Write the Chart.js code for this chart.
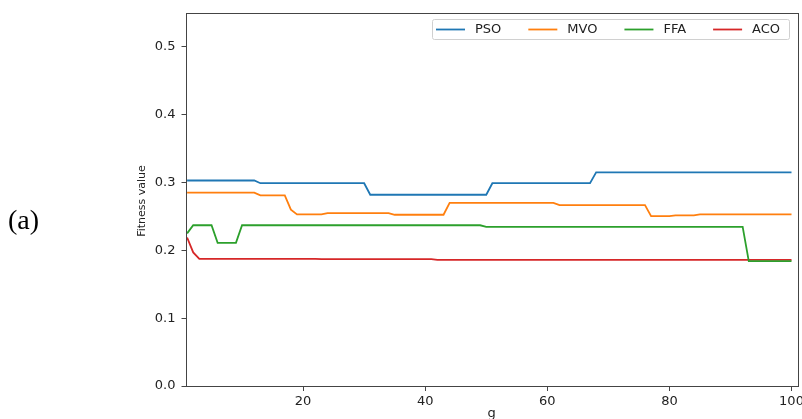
<!DOCTYPE html>
<html>
<head>
<meta charset="utf-8">
<script src="https://cdn.jsdelivr.net/npm/chart.js@4.4.0/dist/chart.umd.min.js"></script>
<style>
  html, body { margin: 0; padding: 0; background: #fff; }
  canvas { display: block; }
</style>
</head>
<body>
<canvas id="fitness-chart" width="802" height="419"></canvas>
<script>
// Generations 1..100
const generations = Array.from({ length: 100 }, (_, i) => i + 1);

// Best fitness per generation for each optimiser
const psoValues = [
  0.303, 0.303, 0.303, 0.303, 0.303, 0.303, 0.303, 0.303, 0.303, 0.303,
  0.303, 0.303, 0.299, 0.299, 0.299, 0.299, 0.299, 0.299, 0.299, 0.299,
  0.299, 0.299, 0.299, 0.299, 0.299, 0.299, 0.299, 0.299, 0.299, 0.299,
  0.282, 0.282, 0.282, 0.282, 0.282, 0.282, 0.282, 0.282, 0.282, 0.282,
  0.282, 0.282, 0.282, 0.282, 0.282, 0.282, 0.282, 0.282, 0.282, 0.282,
  0.299, 0.299, 0.299, 0.299, 0.299, 0.299, 0.299, 0.299, 0.299, 0.299,
  0.299, 0.299, 0.299, 0.299, 0.299, 0.299, 0.299, 0.315, 0.315, 0.315,
  0.315, 0.315, 0.315, 0.315, 0.315, 0.315, 0.315, 0.315, 0.315, 0.315,
  0.315, 0.315, 0.315, 0.315, 0.315, 0.315, 0.315, 0.315, 0.315, 0.315,
  0.315, 0.315, 0.315, 0.315, 0.315, 0.315, 0.315, 0.315, 0.315, 0.315
];
const mvoValues = [
  0.285, 0.285, 0.285, 0.285, 0.285, 0.285, 0.285, 0.285, 0.285, 0.285,
  0.285, 0.285, 0.281, 0.281, 0.281, 0.281, 0.281, 0.260, 0.253, 0.253,
  0.253, 0.253, 0.253, 0.255, 0.255, 0.255, 0.255, 0.255, 0.255, 0.255,
  0.255, 0.255, 0.255, 0.255, 0.2525, 0.2525, 0.2525, 0.2525, 0.2525, 0.2525,
  0.2525, 0.2525, 0.2525, 0.270, 0.270, 0.270, 0.270, 0.270, 0.270, 0.270,
  0.270, 0.270, 0.270, 0.270, 0.270, 0.270, 0.270, 0.270, 0.270, 0.270,
  0.270, 0.2667, 0.2667, 0.2667, 0.2667, 0.2667, 0.2667, 0.2667, 0.2667, 0.2667,
  0.2667, 0.2667, 0.2667, 0.2667, 0.2667, 0.2667, 0.2505, 0.2505, 0.2505, 0.2505,
  0.2515, 0.2515, 0.2515, 0.2515, 0.253, 0.253, 0.253, 0.253, 0.253, 0.253,
  0.253, 0.253, 0.253, 0.253, 0.253, 0.253, 0.253, 0.253, 0.253, 0.253
];
const ffaValues = [
  0.225, 0.237, 0.237, 0.237, 0.237, 0.211, 0.211, 0.211, 0.211, 0.237,
  0.237, 0.237, 0.237, 0.237, 0.237, 0.237, 0.237, 0.237, 0.237, 0.237,
  0.237, 0.237, 0.237, 0.237, 0.237, 0.237, 0.237, 0.237, 0.237, 0.237,
  0.237, 0.237, 0.237, 0.237, 0.237, 0.237, 0.237, 0.237, 0.237, 0.237,
  0.237, 0.237, 0.237, 0.237, 0.237, 0.237, 0.237, 0.237, 0.237, 0.2345,
  0.2345, 0.2345, 0.2345, 0.2345, 0.2345, 0.2345, 0.2345, 0.2345, 0.2345, 0.2345,
  0.2345, 0.2345, 0.2345, 0.2345, 0.2345, 0.2345, 0.2345, 0.2345, 0.2345, 0.2345,
  0.2345, 0.2345, 0.2345, 0.2345, 0.2345, 0.2345, 0.2345, 0.2345, 0.2345, 0.2345,
  0.2345, 0.2345, 0.2345, 0.2345, 0.2345, 0.2345, 0.2345, 0.2345, 0.2345, 0.2345,
  0.2345, 0.2345, 0.184, 0.184, 0.184, 0.184, 0.184, 0.184, 0.184, 0.184
];
const acoValues = [
  0.219, 0.197, 0.1875, 0.1875, 0.1875, 0.1875, 0.1875, 0.1875, 0.1875, 0.1875,
  0.1875, 0.1875, 0.1875, 0.1875, 0.1875, 0.1875, 0.1875, 0.1875, 0.1875, 0.1875,
  0.1875, 0.1875, 0.187, 0.187, 0.187, 0.187, 0.187, 0.187, 0.187, 0.187,
  0.187, 0.187, 0.187, 0.187, 0.187, 0.187, 0.187, 0.187, 0.187, 0.187,
  0.187, 0.186, 0.186, 0.186, 0.186, 0.186, 0.186, 0.186, 0.186, 0.186,
  0.186, 0.186, 0.186, 0.186, 0.186, 0.186, 0.186, 0.186, 0.186, 0.186,
  0.186, 0.186, 0.186, 0.186, 0.186, 0.186, 0.186, 0.186, 0.186, 0.186,
  0.186, 0.186, 0.186, 0.186, 0.186, 0.186, 0.186, 0.186, 0.186, 0.186,
  0.186, 0.186, 0.186, 0.186, 0.186, 0.186, 0.186, 0.186, 0.186, 0.186,
  0.186, 0.186, 0.186, 0.186, 0.186, 0.186, 0.186, 0.186, 0.186, 0.186
];

const seriesNames = ['PSO', 'MVO', 'FFA', 'ACO'];
const seriesColors = ['#1f77b4', '#ff7f0e', '#2ca02c', '#d62728'];
const xTicks = [20, 40, 60, 80, 100];
const yTicks = [0.0, 0.1, 0.2, 0.3, 0.4, 0.5];

const FONT = '"DejaVu Sans", sans-serif';
const AXIS_COLOR = '#444';

const toPoints = vals => vals.map((v, i) => ({ x: generations[i], y: v }));
const allValues = [psoValues, mvoValues, ffaValues, acoValues];

// Frame, axis titles, panel tag and boxed legend drawn on top
const decorations = {
  id: 'decorations',
  afterDraw(chart) {
    const { ctx, chartArea: a } = chart;
    ctx.save();

    ctx.strokeStyle = AXIS_COLOR;
    ctx.lineWidth = 1;
    ctx.strokeRect(Math.round(a.left) - 0.5, Math.round(a.top) + 0.5,
      Math.round(a.right - a.left) + 1, Math.round(a.bottom - a.top));

    ctx.fillStyle = '#222';
    ctx.font = '11px ' + FONT;
    ctx.textAlign = 'center';
    ctx.textBaseline = 'middle';
    ctx.save();
    ctx.translate(142, 201);
    ctx.rotate(-Math.PI / 2);
    ctx.fillText('Fitness value', 0, 0);
    ctx.restore();

    ctx.font = '13px ' + FONT;
    ctx.textBaseline = 'alphabetic';
    ctx.fillText('g', (a.left + a.right) / 2, 417);

    ctx.fillStyle = '#000';
    ctx.font = '28px "Liberation Serif", serif';
    ctx.textAlign = 'left';
    ctx.textBaseline = 'middle';
    ctx.fillText('(a)', 8, 222);

    // legend box
    const bx = 432.5, by = 19.5, bw = 357, bh = 20;
    ctx.fillStyle = 'rgba(255,255,255,0.85)';
    ctx.strokeStyle = '#d0d0d0';
    ctx.beginPath();
    ctx.roundRect(bx, by, bw, bh, 2);
    ctx.fill();
    ctx.stroke();

    ctx.font = '13px ' + FONT;
    ctx.textBaseline = 'middle';
    let lx = 436;
    const ly = by + bh / 2;
    chart.data.datasets.forEach(ds => {
      ctx.strokeStyle = ds.borderColor;
      ctx.lineWidth = 1.8;
      ctx.beginPath();
      ctx.moveTo(lx, ly);
      ctx.lineTo(lx + 29, ly);
      ctx.stroke();
      ctx.fillStyle = '#222';
      ctx.fillText(ds.label, lx + 39, ly);
      lx += 39 + ctx.measureText(ds.label).width + 27;
    });

    ctx.restore();
  }
};

new Chart(document.getElementById('fitness-chart'), {
  type: 'line',
  data: {
    datasets: seriesNames.map((name, k) => ({
      label: name,
      data: toPoints(allValues[k]),
      borderColor: seriesColors[k],
      backgroundColor: seriesColors[k],
      borderWidth: 1.8,
      pointRadius: 0,
      tension: 0,
      fill: false
    }))
  },
  options: {
    responsive: false,
    animation: false,
    layout: { padding: { left: 0, right: 5, top: 13, bottom: 0 } },
    plugins: {
      legend: { display: false },
      tooltip: { enabled: false }
    },
    scales: {
      x: {
        type: 'linear',
        min: 0.9,
        max: 100.9,
        afterBuildTicks: s => { s.ticks = xTicks.map(v => ({ value: v })); },
        afterFit: s => {
          s.height = 33;
          // let the last tick label overhang instead of shrinking the plot
          s.paddingLeft = 0;
          s.paddingRight = 0;
        },
        grid: { drawOnChartArea: false, drawTicks: true, tickLength: 5, color: AXIS_COLOR },
        border: { display: true, color: AXIS_COLOR },
        ticks: { color: '#222', font: { family: FONT, size: 13 }, padding: 3, maxRotation: 0 }
      },
      y: {
        min: 0,
        max: 0.55,
        afterBuildTicks: s => { s.ticks = yTicks.map(v => ({ value: v })); },
        afterFit: s => {
          s.width = 186.5;
          s.paddingTop = 0;
          s.paddingBottom = 0;
        },
        grid: { drawOnChartArea: false, drawTicks: true, tickLength: 5, color: AXIS_COLOR },
        border: { display: true, color: AXIS_COLOR },
        ticks: {
          color: '#222',
          font: { family: FONT, size: 13 },
          padding: 6,
          callback: v => v.toFixed(1)
        }
      }
    }
  },
  plugins: [decorations]
});
</script>
</body>
</html>
